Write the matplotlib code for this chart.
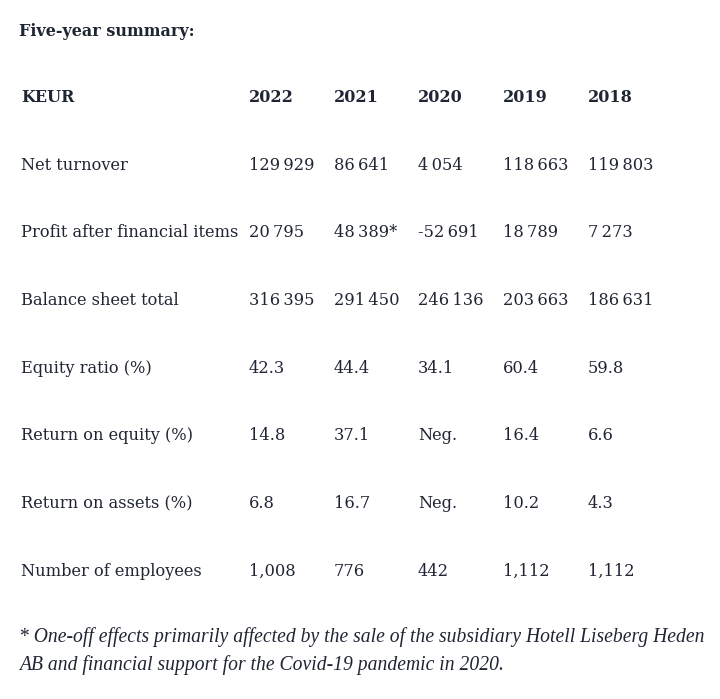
import matplotlib
matplotlib.use("Agg")
import matplotlib.pyplot as plt

title = "Five-year summary:"
unit = "KEUR"
years = ["2022", "2021", "2020", "2019", "2018"]
row_labels = ["Net turnover", "Profit after financial items", "Balance sheet total",
              "Equity ratio (%)", "Return on equity (%)", "Return on assets (%)",
              "Number of employees"]
net_turnover = ["129\u2009929", "86\u2009641", "4\u2009054", "118\u2009663", "119\u2009803"]
profit_after_fin = ["20\u2009795", "48\u2009389*", "-52\u2009691", "18\u2009789", "7\u2009273"]
balance_total = ["316\u2009395", "291\u2009450", "246\u2009136", "203\u2009663", "186\u2009631"]
equity_ratio = ["42.3", "44.4", "34.1", "60.4", "59.8"]
return_on_equity = ["14.8", "37.1", "Neg.", "16.4", "6.6"]
return_on_assets = ["6.8", "16.7", "Neg.", "10.2", "4.3"]
employees = ["1,008", "776", "442", "1,112", "1,112"]
rows = [net_turnover, profit_after_fin, balance_total, equity_ratio,
        return_on_equity, return_on_assets, employees]
footnote = ["* One-off effects primarily affected by the sale of the subsidiary Hotell Liseberg Heden",
            "AB and financial support for the Covid-19 pandemic in 2020."]

W, H = 720, 699
fig = plt.figure(figsize=(W / 100, H / 100), dpi=100)
fig.patch.set_facecolor("white")
color = "#1f2533"
fam = "DejaVu Serif"
fs = 11.7
fsb = 11.5

def px(x, y):
    return x / W, 1 - y / H

col_x = [21, 249, 334, 418, 503, 588]
header_y = 98
row_y0, row_dy = 165, 67.7

fig.text(*px(19, 31), title, fontsize=fsb, fontweight="bold", family=fam, color=color, va="center")
fig.text(*px(col_x[0], header_y), unit, fontsize=fsb, fontweight="bold", family=fam, color=color, va="center")
for j, yr in enumerate(years):
    fig.text(*px(col_x[j + 1], header_y), yr, fontsize=fsb, fontweight="bold", family=fam, color=color, va="center")

for i, (lab, vals) in enumerate(zip(row_labels, rows)):
    y = row_y0 + i * row_dy
    fig.text(*px(col_x[0], y), lab, fontsize=fs, family=fam, color=color, va="center")
    for j, v in enumerate(vals):
        fig.text(*px(col_x[j + 1], y), v, fontsize=fs, family=fam, color=color, va="center")

# footnote: condensed italic serif, fitted to the reference line width
renderer = fig.canvas.get_renderer()
t1 = fig.text(*px(19, 637), footnote[0], fontsize=13, family="Liberation Serif", style="italic",
              color=color, va="center")
w = t1.get_window_extent(renderer).width
ffs = 13 * 681 / w
t1.set_fontsize(ffs)
fig.text(*px(19, 665), footnote[1], fontsize=ffs, family="Liberation Serif", style="italic",
         color=color, va="center")

fig.savefig("out.png", dpi=100, facecolor="white")
